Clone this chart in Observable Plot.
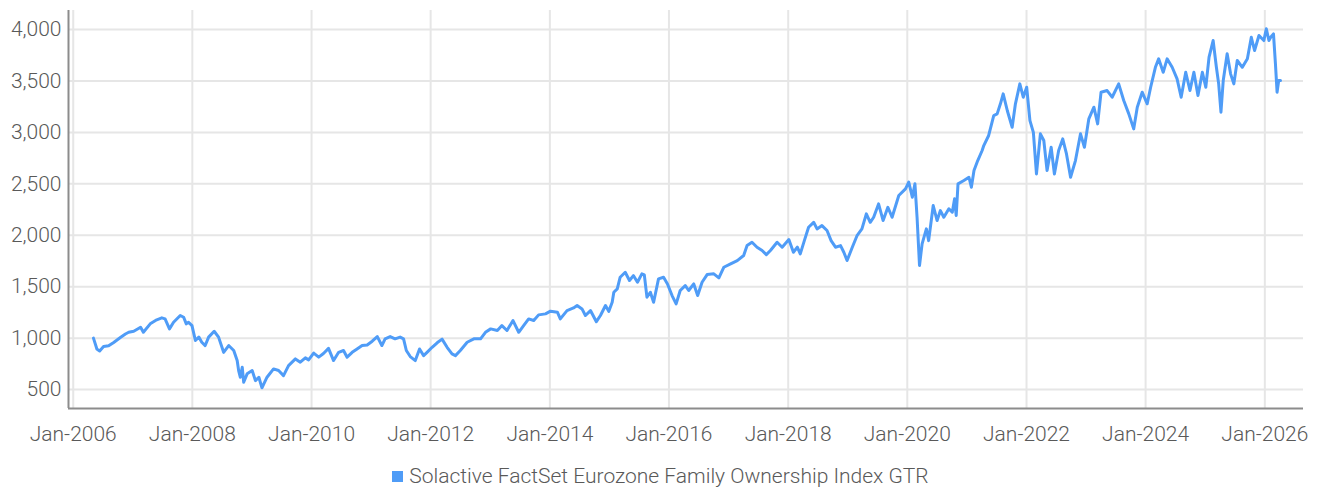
<!DOCTYPE html>
<html><head><meta charset="utf-8">
<script src="https://cdn.jsdelivr.net/npm/d3@7"></script>
<script src="https://cdn.jsdelivr.net/npm/@observablehq/plot@0.6"></script>
<style>
body{margin:0;background:#fff;font-family:Roboto,sans-serif;}
#legend{display:flex;justify-content:center;align-items:center;gap:6px;font-size:21px;font-weight:300;color:#595959;margin-top:14px;line-height:24px;}
#legend .sw{width:11px;height:11px;background:#4e9bf5;display:inline-block;}
</style></head><body><div id="chart"></div><div id="legend"></div>
<script>
const seriesName = "Solactive FactSet Eurozone Family Ownership Index GTR";
const dates = [
"2006-05-05","2006-05-26","2006-06-12","2006-07-06","2006-08-06","2006-09-06","2006-10-17","2006-11-17","2006-12-07",
"2007-01-07","2007-02-18","2007-03-07","2007-04-18","2007-05-28","2007-06-28","2007-07-18","2007-08-14","2007-09-08","2007-10-19","2007-11-09","2007-11-25","2007-12-09","2007-12-30",
"2008-01-20","2008-02-10","2008-02-28","2008-03-20","2008-04-10","2008-05-14","2008-06-10","2008-07-11","2008-08-11","2008-09-11","2008-10-02","2008-10-11","2008-10-21","2008-11-02","2008-11-11","2008-12-02",
"2009-01-02","2009-01-22","2009-02-12","2009-03-03","2009-04-03","2009-05-13","2009-06-13","2009-07-13","2009-08-13","2009-09-24","2009-10-24","2009-11-24","2009-12-14",
"2010-01-14","2010-02-14","2010-03-15","2010-04-15","2010-05-16","2010-06-16","2010-07-16","2010-08-07","2010-09-07","2010-10-07","2010-11-07","2010-12-08",
"2011-01-08","2011-02-08","2011-03-08","2011-03-28","2011-04-28","2011-05-28","2011-06-28","2011-07-19","2011-08-05","2011-08-29","2011-09-29","2011-10-25","2011-11-19","2011-12-10",
"2012-01-10","2012-02-10","2012-03-11","2012-04-11","2012-05-11","2012-06-01","2012-07-01","2012-08-12","2012-09-22","2012-11-02","2012-12-02",
"2013-01-03","2013-02-13","2013-03-13","2013-04-13","2013-05-20","2013-06-24","2013-07-24","2013-08-24","2013-09-24","2013-10-24","2013-12-05",
"2014-01-05","2014-02-16","2014-03-06","2014-04-16","2014-05-26","2014-06-17","2014-07-17","2014-08-07","2014-09-07","2014-10-13","2014-11-07","2014-12-08","2014-12-28",
"2015-01-18","2015-01-28","2015-02-18","2015-03-08","2015-04-08","2015-05-04","2015-05-28","2015-06-22","2015-07-19","2015-08-03","2015-08-19","2015-09-09","2015-09-29","2015-10-29","2015-11-29","2015-12-23",
"2016-01-20","2016-02-14","2016-03-10","2016-04-10","2016-05-01","2016-06-01","2016-06-25","2016-07-22","2016-08-22","2016-10-02","2016-11-02","2016-12-02",
"2017-01-13","2017-02-23","2017-04-03","2017-04-24","2017-05-24","2017-06-24","2017-07-25","2017-08-20","2017-09-14","2017-10-25","2017-11-25",
"2018-01-05","2018-02-02","2018-02-26","2018-03-16","2018-04-10","2018-05-06","2018-06-06","2018-06-27","2018-07-27","2018-08-27","2018-09-21","2018-10-18","2018-11-18","2018-12-08","2018-12-28",
"2019-01-29","2019-02-28","2019-03-29","2019-04-25","2019-05-19","2019-06-09","2019-07-09","2019-08-06","2019-09-04","2019-09-30","2019-11-10","2019-12-21",
"2020-01-10","2020-02-01","2020-02-17","2020-03-01","2020-03-16","2020-04-01","2020-04-27","2020-05-11","2020-06-08","2020-07-02","2020-07-22","2020-08-12","2020-09-12","2020-10-03","2020-10-17","2020-10-27","2020-11-07","2020-12-13",
"2021-01-13","2021-01-28","2021-02-13","2021-03-08","2021-04-04","2021-04-14","2021-05-14","2021-06-14","2021-07-05","2021-07-25","2021-08-11","2021-09-05","2021-10-05","2021-10-25","2021-11-21","2021-12-12",
"2022-01-02","2022-01-22","2022-02-12","2022-03-03","2022-03-27","2022-04-17","2022-05-07","2022-06-01","2022-06-21","2022-07-17","2022-08-11","2022-09-03","2022-09-28","2022-10-28","2022-11-28","2022-12-22",
"2023-01-18","2023-02-18","2023-03-13","2023-04-03","2023-05-10","2023-06-10","2023-07-20","2023-08-20","2023-09-20","2023-10-20","2023-11-11","2023-12-11",
"2024-01-11","2024-02-01","2024-03-01","2024-03-21","2024-04-18","2024-05-12","2024-06-12","2024-07-12","2024-08-06","2024-09-03","2024-09-29","2024-10-23","2024-11-17","2024-12-14",
"2025-01-04","2025-01-24","2025-02-18","2025-03-10","2025-03-24","2025-04-07","2025-04-21","2025-05-15","2025-06-05","2025-06-25","2025-07-16","2025-08-16","2025-09-16","2025-10-10","2025-10-30","2025-11-26","2025-12-26",
"2026-01-10","2026-01-26","2026-02-06","2026-02-23","2026-03-07","2026-03-17","2026-03-27","2026-04-07"
];
const values = [
1000,895,875,918,925,958,1006,1040,1057,
1067,1106,1057,1139,1178,1197,1187,1090,1155,1220,1203,1139,1155,1122,
977,1010,960,928,1010,1067,1010,862,928,880,782,685,620,717,571,653,
685,587,620,517,620,701,685,636,733,798,766,808,789,
855,815,850,900,782,862,880,815,862,895,928,934,
970,1015,928,993,1015,993,1010,993,880,821,782,895,830,862,
911,955,990,911,847,830,880,960,993,993,1057,
1090,1074,1122,1074,1171,1057,1122,1187,1171,1226,1236,
1262,1252,1187,1268,1294,1317,1284,1220,1268,1160,1220,1317,1260,
1349,1446,1479,1592,1640,1560,1608,1543,1625,1615,1398,1446,1349,1576,1592,1527,
1414,1333,1463,1511,1463,1527,1414,1543,1618,1625,1586,1689,
1722,1754,1803,1900,1932,1884,1852,1812,1852,1932,1884,
1958,1835,1884,1819,1948,2078,2126,2062,2094,2046,1948,1884,1900,1835,1754,
1884,2000,2062,2208,2126,2175,2305,2143,2272,2175,2386,2451,
2516,2370,2500,2175,1706,1917,2062,1948,2289,2143,2240,2175,2257,2224,2354,2192,2500,2532,
2564,2467,2629,2726,2824,2872,2970,3164,3180,3278,3375,3213,3050,3278,3472,3342,
3439,3115,3000,2596,2986,2921,2629,2856,2596,2824,2937,2791,2564,2726,2986,2856,
3132,3245,3083,3391,3407,3342,3472,3310,3180,3034,3245,3391,
3278,3439,3633,3715,3585,3715,3633,3520,3342,3585,3407,3585,3358,3585,
3439,3731,3893,3633,3472,3196,3504,3764,3569,3472,3699,3633,3715,3925,3796,3942,3893,
4007,3893,3925,3958,3666,3391,3504,3504
];
const yTicks = [500,1000,1500,2000,2500,3000,3500,4000];
const xTickYears = [2006,2008,2010,2012,2014,2016,2018,2020,2022,2024,2026];

const color = "#4f9cf7";
const data = dates.map((d,i) => ({date: new Date(d), value: values[i]}));
const xTicks = xTickYears.map(y => new Date(Date.UTC(y,0,1)));
const x0 = new Date("2005-12-03"), x1 = new Date("2026-08-26");
const y0 = 316, y1 = 4185;
const fmtMonth = d3.utcFormat("%b-%Y");

const plot = Plot.plot({
  width: 1321, height: 450,
  marginLeft: 68, marginRight: 18, marginTop: 10, marginBottom: 42,
  style: {fontFamily: "Roboto, sans-serif", fontSize: "21px", color: "#595959", background: "#fff", overflow: "visible"},
  x: {type: "utc", domain: [x0, x1]},
  y: {domain: [y0, y1]},
  marks: [
    Plot.gridY(yTicks, {stroke: "#e6e6e6", strokeOpacity: 1, strokeWidth: 2}),
    Plot.gridX(xTicks, {stroke: "#e6e6e6", strokeOpacity: 1, strokeWidth: 2}),
    Plot.ruleX([x0], {stroke: "#8c8c8c", strokeWidth: 2}),
    Plot.ruleY([y0], {stroke: "#8c8c8c", strokeWidth: 2}),
    Plot.lineY(data, {x: "date", y: "value", stroke: color, strokeWidth: 3}),
    Plot.axisY(yTicks, {tickSize: 0, tickPadding: 7, tickFormat: d3.format(","), fontSize: 21, fontWeight: 300, label: null}),
    Plot.axisX(xTicks, {tickSize: 0, tickPadding: 18, tickFormat: fmtMonth, fontSize: 21, fontWeight: 300, label: null})
  ]
});
document.getElementById("chart").appendChild(plot);
const lg = document.getElementById("legend");
const sw = document.createElement("span"); sw.className = "sw"; sw.style.background = color;
const tx = document.createElement("span"); tx.textContent = seriesName;
lg.appendChild(sw); lg.appendChild(tx);
</script>
</body></html>
